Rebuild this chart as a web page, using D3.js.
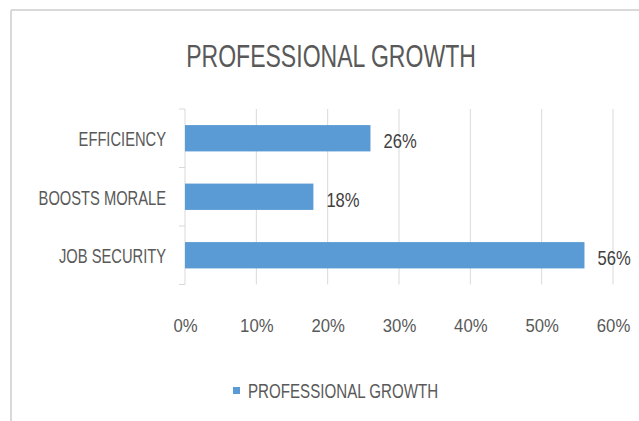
<!DOCTYPE html>
<html>
<head>
<meta charset="utf-8">
<script src="https://cdn.jsdelivr.net/npm/d3@7"></script>
<style>
  body { margin: 0; background: #fff; }
  text { font-family: "Liberation Sans", Arial, sans-serif; fill: #595959; }
</style>
</head>
<body>
<div id="chart"></div>
<script>
// chart data
var categories = ["EFFICIENCY", "BOOSTS MORALE", "JOB SECURITY"];
var values = [0.26, 0.18, 0.56];
var tickValues = [0, 0.1, 0.2, 0.3, 0.4, 0.5, 0.6];
var seriesName = "PROFESSIONAL GROWTH";
var chartTitle = "PROFESSIONAL GROWTH";

var svgWidth = 639;
var svgHeight = 421;

var margin = { top: 109, right: 26, bottom: 136.5, left: 185 };
var width = svgWidth - margin.left - margin.right;
var height = svgHeight - margin.top - margin.bottom;

// squeeze text horizontally, the original font is a narrow one
function condense(sel, k) {
  sel.each(function() {
    var w = this.getComputedTextLength();
    d3.select(this)
      .attr("textLength", w * k)
      .attr("lengthAdjust", "spacingAndGlyphs");
  });
}

var svg = d3.select("#chart")
  .append("svg")
  .attr("width", svgWidth)
  .attr("height", svgHeight);

// chart frame (only top and left edges are visible)
svg.append("line")
  .attr("x1", 11).attr("y1", 10).attr("x2", svgWidth).attr("y2", 10)
  .attr("stroke", "#d9d9d9").attr("stroke-width", 2);
svg.append("line")
  .attr("x1", 11).attr("y1", 10).attr("x2", 11).attr("y2", svgHeight)
  .attr("stroke", "#d9d9d9").attr("stroke-width", 2);

// title
svg.append("text")
  .attr("x", 331)
  .attr("y", 67)
  .attr("text-anchor", "middle")
  .style("font-size", "32px")
  .text(chartTitle)
  .call(condense, 0.72);

var chartGroup = svg.append("g")
  .attr("transform", `translate(${margin.left}, ${margin.top})`);

var xScale = d3.scaleLinear()
  .domain([0, 0.6])
  .range([0, width]);

var yScale = d3.scaleBand()
  .domain(categories)
  .range([0, height])
  .paddingInner(0.55)
  .paddingOuter(0.275);

// vertical gridlines
chartGroup.append("g")
  .selectAll("line")
  .data(tickValues.slice(1))
  .enter()
  .append("line")
  .attr("x1", d => xScale(d))
  .attr("x2", d => xScale(d))
  .attr("y1", 0)
  .attr("y2", height)
  .attr("stroke", "#d9d9d9")
  .attr("stroke-width", 1);

// x tick labels
var xAxis = d3.axisBottom(xScale)
  .tickValues(tickValues)
  .tickFormat(d3.format(".0%"))
  .tickSize(0)
  .tickPadding(0);

var xAxisGroup = chartGroup.append("g")
  .attr("transform", `translate(0, ${height})`)
  .call(xAxis);
xAxisGroup.select(".domain").remove();
xAxisGroup.selectAll("text")
  .attr("dy", null)
  .attr("y", 47)
  .style("font-family", null)
  .style("font-size", "19px")
  .style("fill", "#595959")
  .call(condense, 0.88);
xAxisGroup.attr("font-family", null).attr("font-size", null);

// y axis line + ticks between categories
var step = yScale.step();
chartGroup.append("line")
  .attr("x1", 0).attr("x2", 0)
  .attr("y1", 0).attr("y2", height)
  .attr("stroke", "#d9d9d9");
chartGroup.append("g")
  .selectAll("line")
  .data(d3.range(categories.length + 1))
  .enter()
  .append("line")
  .attr("x1", -6).attr("x2", 0)
  .attr("y1", i => i * step)
  .attr("y2", i => i * step)
  .attr("stroke", "#d9d9d9");

// category labels
chartGroup.append("g")
  .selectAll("text")
  .data(categories)
  .enter()
  .append("text")
  .attr("x", -19)
  .attr("y", d => yScale(d) + yScale.bandwidth() / 2 + 8)
  .attr("text-anchor", "end")
  .style("font-size", "21px")
  .text(d => d)
  .call(condense, 0.7);

// bars
chartGroup.append("g")
  .selectAll("rect")
  .data(values)
  .enter()
  .append("rect")
  .attr("x", 0)
  .attr("y", (d, i) => yScale(categories[i]))
  .attr("width", d => xScale(d))
  .attr("height", yScale.bandwidth())
  .attr("fill", "#5b9bd5");

// data labels
chartGroup.append("g")
  .selectAll("text")
  .data(values)
  .enter()
  .append("text")
  .attr("x", d => xScale(d) + 13)
  .attr("y", (d, i) => yScale(categories[i]) + yScale.bandwidth() / 2 + 10)
  .style("font-size", "21px")
  .style("fill", "#404040")
  .text(d => d3.format(".0%")(d))
  .call(condense, 0.79);

// legend
var legend = svg.append("g")
  .attr("transform", "translate(233, 387)");
legend.append("rect")
  .attr("width", 7)
  .attr("height", 7)
  .attr("fill", "#5b9bd5");
legend.append("text")
  .attr("x", 15)
  .attr("y", 11)
  .style("font-size", "21px")
  .text(seriesName)
  .call(condense, 0.72);
</script>
</body>
</html>
